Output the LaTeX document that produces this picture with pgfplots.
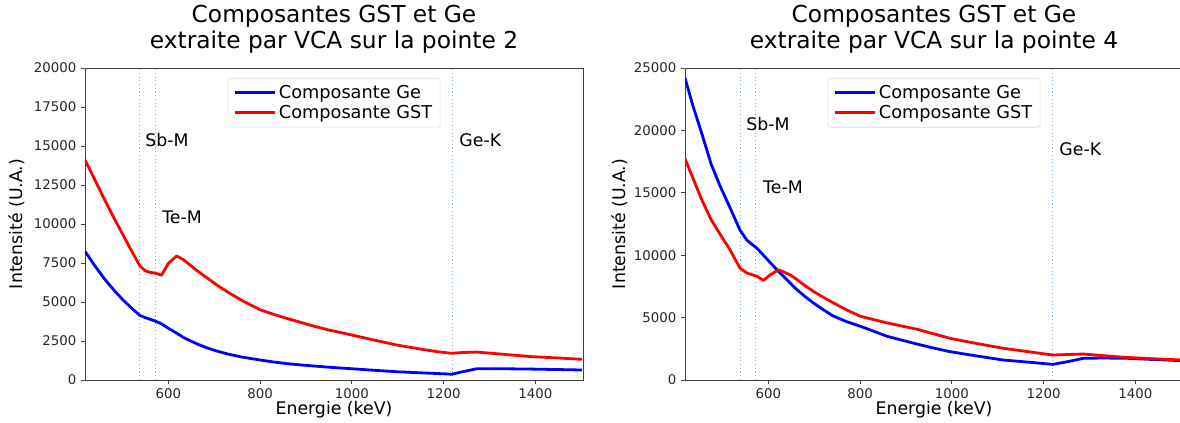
\documentclass[border=0pt]{standalone}
\usepackage{pgfplots}
\pgfplotsset{compat=1.18}
\usepackage{pgfplotstable}
\usepackage{fontspec}
\setmainfont{DejaVu Sans}

\definecolor{vl}{RGB}{120,170,210}

% pointe 2
\pgfplotstableread{
x    ge    gst
418  8250  14100
440  7300  12800
460  6500  11600
480  5800  10450
500  5150  9350
520  4600  8250
537  4150  7350
549  4000  7000
560  3890  6900
571  3780  6850
585  3600  6720
600  3310  7480
618  3000  7950
633  2720  7700
647  2520  7370
665  2280  6950
684  2060  6550
705  1860  6100
730  1660  5620
760  1470  5100
800  1280  4500
830  1150  4200
858  1050  3950
890  960   3680
916  900   3460
950  820   3200
974  770   3050
1000 720   2880
1050 620   2550
1098 530   2240
1150 460   1980
1190 410   1800
1218 370   1710
1240 520   1760
1272 720   1790
1330 720   1650
1389 700   1500
1450 670   1410
1502 640   1325
}\pointeA

% pointe 4
\pgfplotstableread{
x    ge    gst
418  24200 17740
435  22000 16200
455  19700 14400
475  17300 12850
495  15500 11650
515  13900 10500
538  12000 8960
553  11200 8570
575  10550 8300
589  10000 7980
604  9400  8430
622  8700  8830
647  7780  8430
662  7240  8050
680  6680  7550
698  6170  7100
720  5620  6620
742  5110  6170
770  4680  5620
800  4310  5110
830  3900  4830
858  3510  4580
890  3200  4330
927  2850  4040
960  2560  3700
996  2270  3340
1050 1950  2950
1112 1600  2540
1170 1420  2250
1220 1250  2000
1250 1450  2040
1287 1740  2080
1330 1760  1950
1381 1740  1810
1440 1640  1700
1502 1550  1600
}\pointeB

\pgfplotsset{
  mpl/.style={
    scale only axis, width=373.5pt, height=234pt,
    xmin=418, xmax=1504, ymin=0,
    axis line style={black!75, line width=0.6pt},
    tick align=outside, xtick pos=bottom, ytick pos=left,
    major tick length=3pt, tick style={black!75, line width=0.6pt},
    xtick={600,800,...,1400},
    scaled y ticks=false,
    /pgf/number format/assume math mode=true,
    /pgf/number format/1000 sep={},
    ticklabel style={font=\fontsize{10}{12}\selectfont, text=black!85},
    label style={font=\fontsize{13}{15}\selectfont},
    title style={font=\fontsize{17.5}{19.5}\selectfont, align=center,
      at={(0.5,1)}, anchor=south, inner sep=0pt, yshift=4.5pt},
    xlabel={Energie (keV)}, ylabel={Intensité (U.A.)},
    xlabel style={at={(axis description cs:0.5,-0.096)}, anchor=center},
    legend style={at={(0.5,0.968)}, anchor=north, draw=black!15,
      rounded corners=2pt, font=\fontsize{13.3}{16}\selectfont,
      inner xsep=4pt, inner ysep=3pt},
    legend cell align=left,
    legend image code/.code={\draw[#1, line width=2.3pt] (0pt,0.3pt) -- (30pt,0.3pt);},
  },
  vline/.style={color=vl, dotted, line width=0.8pt, forget plot},
  spec/.style={line width=2.1pt, no markers, line join=round},
}
\tikzset{lab/.style={anchor=west, inner sep=0pt, font=\fontsize{13}{15}\selectfont}}

\begin{document}
\begin{tikzpicture}
\useasboundingbox (-63.75pt,-32.25pt) rectangle (821.25pt,285pt);

\begin{axis}[mpl,
  title={Composantes GST et Ge\\extraite par VCA sur la pointe 2},
  ymax=20000, ytick={0,2500,...,20000},
  ylabel style={at={(axis description cs:-0.137,0.5)}, anchor=center},
]
\addplot[vline] coordinates {(537,0) (537,20000)};
\addplot[vline] coordinates {(572,0) (572,20000)};
\addplot[vline] coordinates {(1219,0) (1219,20000)};
\addplot[spec, color=blue] table[x=x, y=ge] {\pointeA};
\addplot[spec, color=red] table[x=x, y=gst] {\pointeA};
\legend{Composante Ge, Composante GST}
\node[lab] at (axis cs:549,15380) {Sb-M};
\node[lab] at (axis cs:586,10450) {Te-M};
\node[lab] at (axis cs:1234,15380) {Ge-K};
\end{axis}

\begin{axis}[mpl, at={(450pt,0pt)},
  title={Composantes GST et Ge\\extraite par VCA sur la pointe 4},
  ymax=25000, ytick={0,5000,...,25000},
  ylabel style={at={(axis description cs:-0.1305,0.5)}, anchor=center},
]
\addplot[vline] coordinates {(538,0) (538,25000)};
\addplot[vline] coordinates {(572,0) (572,25000)};
\addplot[vline] coordinates {(1220,0) (1220,25000)};
\addplot[spec, color=blue] table[x=x, y=ge] {\pointeB};
\addplot[spec, color=red] table[x=x, y=gst] {\pointeB};
\legend{Composante Ge, Composante GST}
\node[lab] at (axis cs:551,20500) {Sb-M};
\node[lab] at (axis cs:588,15480) {Te-M};
\node[lab] at (axis cs:1234,18480) {Ge-K};
\end{axis}
\end{tikzpicture}
\end{document}
